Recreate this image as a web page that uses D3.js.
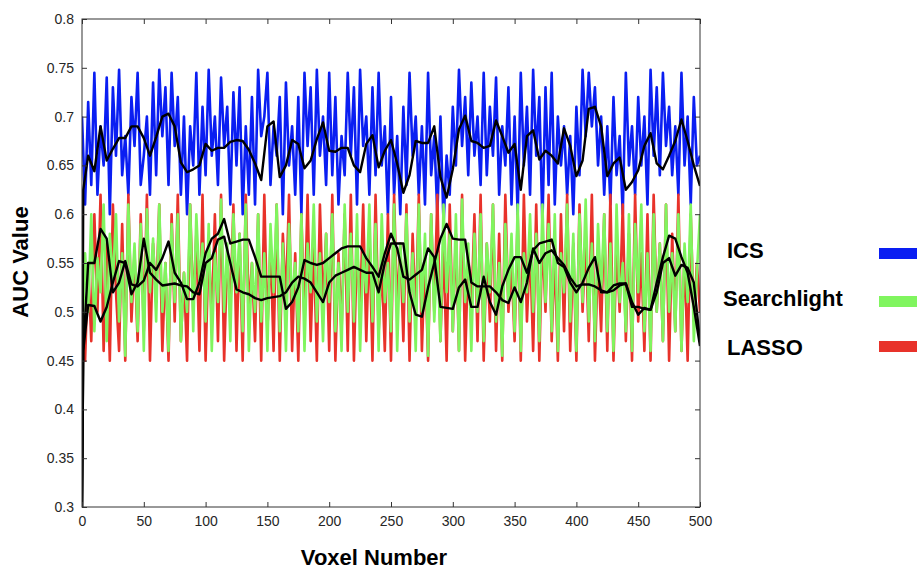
<!DOCTYPE html>
<html><head><meta charset="utf-8">
<script src="https://cdn.jsdelivr.net/npm/d3@7"></script>
<style>body{margin:0;background:#fff} svg{display:block}</style>
</head><body><svg id="c" width="917" height="570"></svg>
<script>
const xTicks=[0,50,100,150,200,250,300,350,400,450,500];
const yTicks=[0.3,0.35,0.4,0.45,0.5,0.55,0.6,0.65,0.7,0.75,0.8];
const seriesNames=["ICS","Searchlight","LASSO"];
const seriesColors=["#0a1ef2","#80f55f","#e8322a"];
const rawVoxels=d3.range(0,500.01,2.5);
const icsAUC=[0.70,0.61,0.715,0.63,0.745,0.62,0.69,0.65,0.74,0.60,
0.73,0.66,0.748,0.64,0.68,0.62,0.72,0.67,0.745,0.63,
0.66,0.70,0.62,0.735,0.64,0.748,0.68,0.73,0.63,0.745,
0.67,0.72,0.62,0.70,0.60,0.69,0.65,0.745,0.62,0.71,
0.64,0.748,0.66,0.70,0.63,0.74,0.67,0.71,0.61,0.725,
0.65,0.73,0.60,0.69,0.62,0.72,0.61,0.748,0.68,0.70,
0.745,0.63,0.69,0.66,0.72,0.60,0.735,0.65,0.69,0.62,
0.72,0.60,0.745,0.67,0.73,0.62,0.748,0.66,0.70,0.63,
0.745,0.64,0.72,0.61,0.68,0.64,0.745,0.66,0.73,0.61,
0.748,0.67,0.70,0.62,0.73,0.64,0.745,0.65,0.69,0.60,
0.72,0.62,0.68,0.60,0.71,0.63,0.745,0.66,0.70,0.62,
0.69,0.61,0.745,0.64,0.68,0.60,0.70,0.59,0.66,0.62,
0.71,0.65,0.748,0.67,0.72,0.64,0.735,0.66,0.70,0.63,
0.745,0.64,0.71,0.66,0.74,0.62,0.69,0.65,0.73,0.61,
0.70,0.60,0.745,0.65,0.71,0.62,0.748,0.66,0.72,0.59,
0.73,0.63,0.745,0.61,0.70,0.65,0.69,0.62,0.68,0.60,
0.71,0.64,0.748,0.68,0.745,0.69,0.73,0.65,0.70,0.62,
0.69,0.61,0.72,0.64,0.68,0.60,0.745,0.65,0.69,0.62,
0.72,0.65,0.70,0.61,0.748,0.66,0.73,0.64,0.745,0.67,
0.71,0.64,0.69,0.62,0.745,0.65,0.70,0.61,0.72,0.65,
0.66];
const searchlightAUC=[0.46,0.56,0.50,0.60,0.48,0.555,0.52,0.61,0.47,0.58,
0.53,0.60,0.49,0.56,0.455,0.61,0.51,0.57,0.48,0.59,
0.46,0.605,0.52,0.575,0.49,0.61,0.50,0.55,0.46,0.59,
0.51,0.60,0.47,0.54,0.50,0.61,0.48,0.60,0.53,0.57,
0.49,0.59,0.46,0.56,0.51,0.615,0.50,0.57,0.47,0.60,
0.52,0.58,0.48,0.61,0.46,0.55,0.50,0.60,0.49,0.56,
0.46,0.59,0.52,0.61,0.48,0.57,0.46,0.59,0.51,0.55,
0.48,0.60,0.46,0.57,0.52,0.61,0.49,0.56,0.47,0.58,
0.51,0.60,0.48,0.55,0.46,0.61,0.50,0.58,0.49,0.60,
0.46,0.56,0.52,0.61,0.49,0.59,0.46,0.60,0.51,0.55,
0.48,0.61,0.46,0.57,0.51,0.60,0.49,0.56,0.46,0.61,
0.50,0.58,0.455,0.60,0.49,0.56,0.47,0.61,0.52,0.58,
0.48,0.60,0.46,0.615,0.51,0.57,0.46,0.58,0.50,0.60,
0.47,0.57,0.52,0.61,0.49,0.55,0.455,0.59,0.51,0.58,
0.48,0.61,0.46,0.56,0.52,0.60,0.50,0.58,0.47,0.61,
0.51,0.59,0.48,0.60,0.46,0.56,0.52,0.61,0.49,0.58,
0.46,0.60,0.51,0.615,0.49,0.57,0.47,0.59,0.52,0.60,
0.48,0.57,0.46,0.61,0.51,0.55,0.48,0.60,0.46,0.59,
0.52,0.61,0.48,0.56,0.46,0.60,0.50,0.57,0.47,0.61,
0.50,0.56,0.48,0.60,0.46,0.57,0.51,0.61,0.47,0.54,
0.60];
const lassoAUC=[0.50,0.45,0.55,0.47,0.60,0.50,0.62,0.46,0.57,0.45,
0.61,0.52,0.46,0.59,0.45,0.62,0.49,0.56,0.47,0.60,
0.48,0.62,0.45,0.57,0.51,0.61,0.46,0.55,0.45,0.60,
0.49,0.62,0.47,0.54,0.45,0.61,0.50,0.58,0.46,0.62,
0.45,0.57,0.49,0.60,0.47,0.62,0.45,0.56,0.50,0.61,
0.46,0.58,0.45,0.62,0.50,0.55,0.47,0.60,0.45,0.62,
0.48,0.57,0.46,0.61,0.45,0.58,0.51,0.62,0.46,0.56,
0.45,0.60,0.49,0.62,0.47,0.57,0.45,0.61,0.50,0.58,
0.46,0.62,0.45,0.56,0.48,0.60,0.46,0.62,0.45,0.57,
0.50,0.61,0.47,0.58,0.45,0.62,0.48,0.55,0.46,0.60,
0.45,0.62,0.50,0.57,0.47,0.61,0.45,0.58,0.49,0.62,
0.46,0.56,0.45,0.60,0.50,0.62,0.47,0.57,0.45,0.61,
0.48,0.58,0.46,0.62,0.45,0.56,0.50,0.60,0.47,0.62,
0.45,0.57,0.49,0.61,0.46,0.58,0.45,0.62,0.50,0.55,
0.47,0.60,0.45,0.62,0.49,0.57,0.46,0.61,0.45,0.58,
0.50,0.62,0.47,0.56,0.45,0.60,0.48,0.62,0.46,0.57,
0.45,0.61,0.50,0.58,0.47,0.62,0.45,0.56,0.48,0.60,
0.46,0.62,0.45,0.57,0.50,0.61,0.47,0.58,0.45,0.62,
0.49,0.56,0.46,0.60,0.45,0.62,0.50,0.57,0.47,0.61,
0.45,0.58,0.48,0.62,0.46,0.56,0.45,0.60,0.49,0.55,
0.50];
const smoothVoxels=[0,1,5,10,15,20,25,30,35,40,45,50,55,60,65,70,75,80,85,90,95,100,
105,110,115,120,125,130,135,140,145,150,155,160,165,170,175,180,185,190,195,200,
205,210,215,220,225,230,235,240,245,250,255,260,265,270,275,280,285,290,295,300,
305,310,315,320,325,330,335,340,345,350,355,360,365,370,375,380,385,390,395,400,
405,410,415,420,425,430,435,440,445,450,455,460,465,470,475,480,485,490,495,500];
const icsSmooth=[0.30,0.625,
0.66,0.644,0.69,0.655,0.667,0.678,0.678,0.69,0.69,0.678,
0.66,0.679,0.70,0.703,0.69,0.653,0.643,0.646,0.65,0.672,
0.665,0.668,0.668,0.674,0.676,0.675,0.666,0.652,0.635,0.69,
0.695,0.638,0.65,0.676,0.672,0.647,0.655,0.677,0.694,0.665,
0.664,0.668,0.668,0.65,0.643,0.672,0.681,0.648,0.665,0.676,
0.652,0.622,0.64,0.675,0.673,0.673,0.69,0.638,0.617,0.646,
0.687,0.701,0.675,0.673,0.668,0.67,0.696,0.68,0.663,0.672,
0.625,0.68,0.686,0.656,0.665,0.66,0.652,0.688,0.67,0.639,
0.655,0.708,0.71,0.69,0.639,0.652,0.658,0.625,0.633,0.645,
0.67,0.683,0.652,0.646,0.66,0.675,0.697,0.675,0.65,0.629];
const searchlightSmooth=[0.30,0.46,
0.55,0.55,0.585,0.575,0.52,0.53,0.552,0.528,0.526,0.532,
0.55,0.543,0.555,0.572,0.54,0.53,0.513,0.513,0.53,0.56,
0.575,0.58,0.595,0.57,0.572,0.574,0.574,0.556,0.536,0.536,
0.536,0.536,0.503,0.51,0.525,0.553,0.55,0.548,0.55,0.555,
0.56,0.565,0.567,0.567,0.567,0.555,0.546,0.536,0.56,0.58,
0.565,0.536,0.533,0.538,0.543,0.565,0.556,0.505,0.504,0.503,
0.525,0.533,0.505,0.505,0.536,0.51,0.497,0.526,0.543,0.556,
0.556,0.54,0.563,0.57,0.572,0.574,0.55,0.546,0.53,0.52,
0.53,0.545,0.556,0.52,0.52,0.522,0.527,0.529,0.505,0.505,
0.503,0.502,0.53,0.556,0.578,0.575,0.556,0.54,0.505,0.465];
const lassoSmooth=[0.30,0.46,
0.507,0.506,0.49,0.505,0.53,0.552,0.55,0.518,0.53,0.575,
0.54,0.533,0.527,0.528,0.529,0.527,0.526,0.52,0.518,0.55,
0.555,0.574,0.577,0.55,0.523,0.52,0.518,0.514,0.512,0.514,
0.515,0.516,0.52,0.53,0.536,0.534,0.53,0.52,0.51,0.53,
0.537,0.54,0.543,0.546,0.543,0.54,0.54,0.52,0.55,0.57,
0.57,0.57,0.52,0.497,0.495,0.525,0.55,0.575,0.59,0.575,
0.574,0.574,0.53,0.526,0.526,0.526,0.52,0.512,0.509,0.525,
0.51,0.53,0.565,0.55,0.56,0.563,0.555,0.548,0.535,0.526,
0.528,0.528,0.526,0.522,0.52,0.527,0.529,0.529,0.51,0.497,
0.504,0.502,0.52,0.55,0.555,0.537,0.548,0.545,0.53,0.47];

const svg=d3.select("#c");
const FONT="'Liberation Sans', Arial, Helvetica, sans-serif";
const L=82,R=700,T=19,B=507;
const x=d3.scaleLinear().domain([0,500]).range([L,R]);
const y=d3.scaleLinear().domain([0.3,0.8]).range([B,T]);

svg.append("defs").append("clipPath").attr("id","clip")
  .append("rect").attr("x",L).attr("y",T).attr("width",R-L).attr("height",B-T);

const plot=svg.append("g").attr("clip-path","url(#clip)");
const rawLine=d3.line().x((d,i)=>x(rawVoxels[i])).y(d=>y(d));
const smLine=d3.line().x((d,i)=>x(smoothVoxels[i])).y(d=>y(d));

const raws=[icsAUC,searchlightAUC,lassoAUC];
[0,2,1].forEach(k=>{
  plot.append("path").datum(raws[k]).attr("d",rawLine)
    .attr("fill","none").attr("stroke",seriesColors[k]).attr("stroke-width",2.6)
    .attr("stroke-linejoin","round");
});
[icsSmooth,searchlightSmooth,lassoSmooth].forEach(s=>{
  plot.append("path").datum(s).attr("d",smLine)
    .attr("fill","none").attr("stroke","#000").attr("stroke-width",2.4)
    .attr("stroke-linejoin","round");
});

const fmt=d=>String(+d.toFixed(2));
const axB=svg.append("g").attr("transform",`translate(0,${B})`)
  .call(d3.axisBottom(x).tickValues(xTicks).tickSizeInner(-5).tickSizeOuter(0).tickPadding(9).tickFormat(d3.format("d")));
const axT=svg.append("g").attr("transform",`translate(0,${T})`)
  .call(d3.axisTop(x).tickValues(xTicks).tickSizeInner(-5).tickSizeOuter(0).tickFormat(""));
const axL=svg.append("g").attr("transform",`translate(${L},0)`)
  .call(d3.axisLeft(y).tickValues(yTicks).tickSizeInner(-5).tickSizeOuter(0).tickPadding(8).tickFormat(fmt));
const axR=svg.append("g").attr("transform",`translate(${R},0)`)
  .call(d3.axisRight(y).tickValues(yTicks).tickSizeInner(-5).tickSizeOuter(0).tickFormat(""));
[axB,axT,axL,axR].forEach(a=>{
  a.select(".domain").remove();
  a.selectAll(".tick line").attr("stroke","#333");
  a.selectAll("text").attr("font-family",FONT).attr("font-size",14).attr("fill","#262626");
});
svg.append("rect").attr("x",L).attr("y",T).attr("width",R-L).attr("height",B-T)
  .attr("fill","none").attr("stroke","#333").attr("stroke-width",1);

svg.append("text").attr("x",374).attr("y",565).attr("text-anchor","middle")
  .attr("font-family",FONT).attr("font-weight","bold").attr("font-size",22).attr("fill","#000")
  .text("Voxel Number");
svg.append("text").attr("transform","translate(28,262) rotate(-90)").attr("text-anchor","middle")
  .attr("font-family",FONT).attr("font-weight","bold").attr("font-size",22).attr("fill","#000")
  .text("AUC Value");

const legY=[258,306,355];
const legX=[727,723,727];
const swY=[248,296,341];
seriesNames.forEach((n,i)=>{
  svg.append("text").attr("x",legX[i]).attr("y",legY[i])
    .attr("font-family",FONT).attr("font-weight","bold").attr("font-size",22).attr("fill","#000").text(n);
  svg.append("rect").attr("x",879).attr("y",swY[i]).attr("width",38).attr("height",11)
    .attr("fill",seriesColors[i]);
});
</script></body></html>
